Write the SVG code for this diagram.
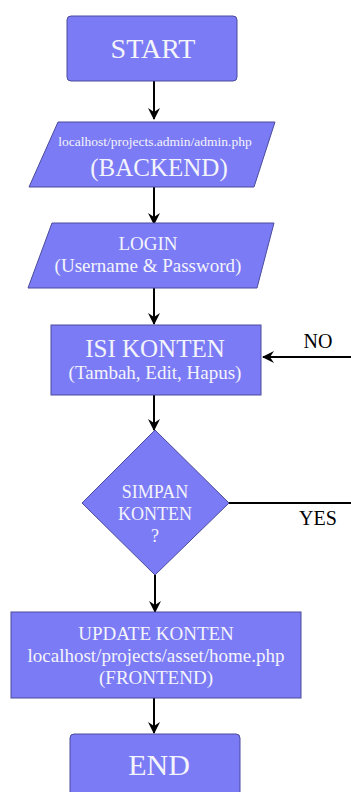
<svg xmlns="http://www.w3.org/2000/svg" width="351" height="792" viewBox="0 0 351 792">
<defs>
<marker id="arr" viewBox="0 0 12 12" refX="11" refY="6" markerWidth="12" markerHeight="12" markerUnits="userSpaceOnUse" orient="auto">
<path d="M0,0 L12,6 L0,12 L4,6 Z" fill="#000"/>
</marker>
</defs>
<style>
.shape{fill:#7b7bf5;stroke:#4b4b9c;stroke-width:1}
.t{font-family:"Liberation Serif","Times New Roman",serif;fill:#f4f4fb;text-anchor:middle}
.lbl{font-family:"Liberation Serif","Times New Roman",serif;fill:#000;text-anchor:middle}
.c{stroke:#000;stroke-width:2;fill:none}
.cm{stroke:#000;stroke-width:2;fill:none;marker-end:url(#arr)}
</style>
<rect width="351" height="792" fill="#fff"/>
<g id="connectors">
<line class="cm" x1="154" y1="81" x2="154" y2="119"/>
<line class="cm" x1="154" y1="187" x2="154" y2="224"/>
<line class="cm" x1="154" y1="288" x2="154" y2="324"/>
<line class="cm" x1="154" y1="395" x2="154" y2="430"/>
<line class="cm" x1="155" y1="575" x2="155" y2="612"/>
<line class="cm" x1="154" y1="698" x2="154" y2="733"/>
<line class="cm" x1="351" y1="357" x2="263" y2="357"/>
<line class="c" x1="229" y1="503" x2="351" y2="503"/>
<text class="lbl" x="318" y="348" font-size="20">NO</text>
<text class="lbl" x="318" y="525" font-size="20">YES</text>
</g>
<g id="start">
<rect class="shape" x="67" y="16" width="170" height="65" rx="4"/>
<text class="t" x="153" y="58" font-size="28">START</text>
</g>
<g id="backend">
<polygon class="shape" points="58,122 275,122 254,187 29,187"/>
<text class="t" x="155" y="146" font-size="13.5">localhost/projects.admin/admin.php</text>
<text class="t" x="159" y="176" font-size="25">(BACKEND)</text>
</g>
<g id="login">
<polygon class="shape" points="52,223 274,223 257,288 28,288"/>
<text class="t" x="148" y="250" font-size="19">LOGIN</text>
<text class="t" x="148" y="272" font-size="19">(Username &amp; Password)</text>
</g>
<g id="isi">
<rect class="shape" x="51" y="325" width="210" height="70"/>
<text class="t" x="155" y="357" font-size="25">ISI KONTEN</text>
<text class="t" x="155" y="379" font-size="19">(Tambah, Edit, Hapus)</text>
</g>
<g id="simpan">
<polygon class="shape" points="155,430 229,503 155,575 82,503"/>
<text class="t" x="155" y="498" font-size="18">SIMPAN</text>
<text class="t" x="155" y="520" font-size="18">KONTEN</text>
<text class="t" x="155" y="542" font-size="18">?</text>
</g>
<g id="update">
<rect class="shape" x="11" y="612" width="290" height="86"/>
<text class="t" x="156" y="640" font-size="19">UPDATE KONTEN</text>
<text class="t" x="156" y="662" font-size="19">localhost/projects/asset/home.php</text>
<text class="t" x="156" y="684" font-size="19">(FRONTEND)</text>
</g>
<g id="end">
<rect class="shape" x="70" y="734" width="170" height="70" rx="4"/>
<text class="t" x="159" y="775" font-size="30">END</text>
</g>
</svg>
